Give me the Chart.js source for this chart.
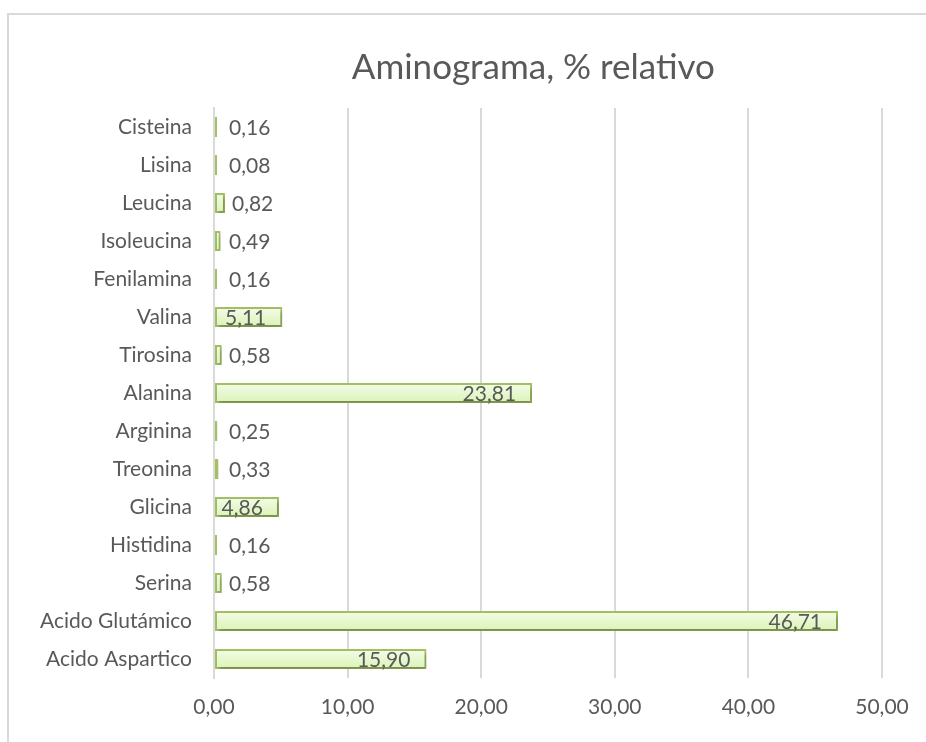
<!DOCTYPE html>
<html>
<head>
<meta charset="utf-8">
<script src="https://cdn.jsdelivr.net/npm/chart.js@4/dist/chart.umd.min.js"></script>
<style>
  html, body { margin: 0; padding: 0; background: #fff; }
  #frame { position: absolute; left: 7px; top: 13px; width: 940px; height: 740px; border: 2px solid #d9d9d9; box-sizing: border-box; }
  #wrap { position: absolute; left: 0; top: 0; width: 926px; height: 742px; }
</style>
</head>
<body>
<div id="frame"></div>
<div id="wrap"><canvas id="aminograma"></canvas></div>
<script>
const titleText = 'Aminograma, % relativo';
const aminoacidos = ['Cisteina', 'Lisina', 'Leucina', 'Isoleucina', 'Fenilamina', 'Valina', 'Tirosina',
  'Alanina', 'Arginina', 'Treonina', 'Glicina', 'Histidina', 'Serina', 'Acido Glutámico', 'Acido Aspartico'];
const porcentajes = [0.16, 0.08, 0.82, 0.49, 0.16, 5.11, 0.58, 23.81, 0.25, 0.33, 4.86, 0.16, 0.58, 46.71, 15.90];
const xMin = 0, xMax = 50, xStep = 10;

const gray = '#595959';
const fontFamily = 'Lato, "Open Sans", sans-serif';
const fmt = v => v.toFixed(2).replace('.', ',');

// title drawn a bit left of the plot centre, like the original
const titlePlugin = {
  id: 'titlePlugin',
  afterDraw(chart) {
    const c = chart.ctx;
    c.save();
    c.font = '35px ' + fontFamily;
    c.fillStyle = gray;
    c.textAlign = 'center';
    c.textBaseline = 'middle';
    c.fillText(titleText, chart.width * 0.576, 68);
    c.restore();
  }
};

const shadowPlugin = {
  id: 'shadowPlugin',
  beforeDatasetDraw(chart) {
    const c = chart.ctx;
    c.save();
    c.shadowColor = 'rgba(0,0,0,0.28)';
    c.shadowBlur = 4;
    c.shadowOffsetX = 2;
    c.shadowOffsetY = 3;
  },
  afterDatasetDraw(chart) {
    chart.ctx.restore();
  }
};

const labelPlugin = {
  id: 'labelPlugin',
  afterDatasetsDraw(chart) {
    const c = chart.ctx;
    const meta = chart.getDatasetMeta(0);
    const left = chart.chartArea.left;
    c.save();
    c.font = '21px ' + fontFamily;
    c.fillStyle = gray;
    c.textBaseline = 'middle';
    meta.data.forEach((bar, i) => {
      const txt = fmt(porcentajes[i]);
      const w = c.measureText(txt).width;
      const barW = bar.x - left;
      if (barW > w + 18) {
        c.textAlign = 'right';
        c.fillText(txt, bar.x - 16, bar.y + 1);
      } else {
        c.textAlign = 'left';
        c.fillText(txt, Math.max(bar.x + 7, left + 15), bar.y + 1);
      }
    });
    c.restore();
  }
};

function barFill(context) {
  const chart = context.chart;
  const yScale = chart.scales && chart.scales.y;
  if (!yScale || !chart.chartArea) return '#e6f6cc';
  const y = yScale.getPixelForValue(context.dataIndex);
  const g = chart.ctx.createLinearGradient(0, y - 10, 0, y + 10);
  g.addColorStop(0, '#f4fce8');
  g.addColorStop(1, '#dbf3b6');
  return g;
}

new Chart(document.getElementById('aminograma'), {
  type: 'bar',
  data: {
    labels: aminoacidos,
    datasets: [{
      data: porcentajes,
      backgroundColor: barFill,
      borderColor: '#a2c163',
      borderWidth: 2,
      borderSkipped: false,
      minBarLength: 3,
      barPercentage: 0.52,
      categoryPercentage: 1
    }]
  },
  options: {
    indexAxis: 'y',
    responsive: true,
    maintainAspectRatio: false,
    animation: false,
    layout: { padding: { top: 108, left: 10, right: 44, bottom: 0 } },
    plugins: {
      legend: { display: false },
      title: { display: false },
      tooltip: { enabled: false }
    },
    scales: {
      x: {
        min: xMin,
        max: xMax,
        ticks: {
          stepSize: xStep,
          padding: 17,
          color: gray,
          font: { family: fontFamily, size: 21 },
          callback: v => fmt(v)
        },
        grid: { color: '#d9d9d9', lineWidth: 2, drawTicks: false },
        border: { display: false },
        afterFit(scale) { scale.height = 64; }
      },
      y: {
        ticks: {
          padding: 22,
          color: gray,
          font: { family: fontFamily, size: 21 }
        },
        grid: { display: false, drawTicks: false },
        border: { display: true, color: '#d9d9d9', width: 2 },
        afterFit(scale) { scale.width = 204; }
      }
    }
  },
  plugins: [shadowPlugin, labelPlugin, titlePlugin]
});
</script>
</body>
</html>
